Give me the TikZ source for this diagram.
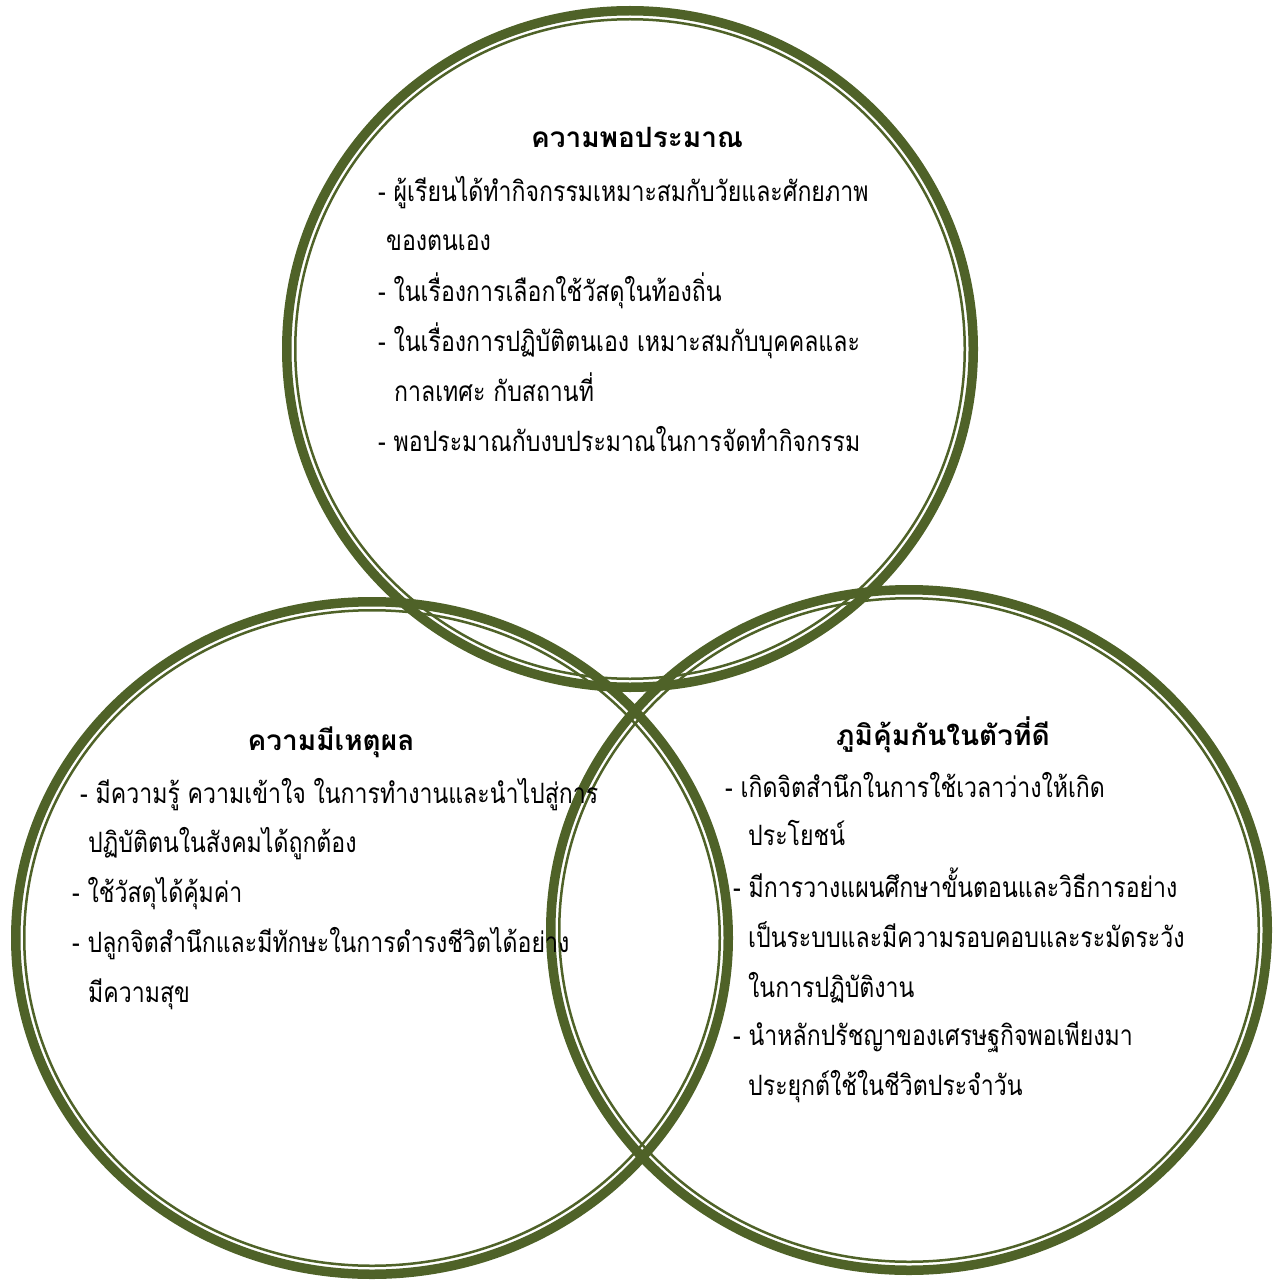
\documentclass[tikz,border=0pt]{standalone}
\usepackage{fontspec}
\newfontfamily\thaifont[Script=Thai]{Loma}
\newfontfamily\thaibody[Script=Thai,FakeStretch=0.825]{Loma}
\definecolor{ringgreen}{HTML}{4F6228}
\tikzset{
  ringthick/.style={draw=ringgreen, line width=9.5pt},
  ringthin/.style={draw=ringgreen, line width=2.5pt},
  ttl/.style={font=\thaifont\bfseries\fontsize{28}{34}\selectfont, inner sep=0pt, anchor=base},
  txt/.style={font=\thaibody\fontsize{28}{34}\selectfont, inner sep=0pt, anchor=base west}
}
\begin{document}
\begin{tikzpicture}[x=1pt,y=-1pt]
\useasboundingbox (0,0) rectangle (1279,1281);
% rings
\draw[ringthick] (630,349) ellipse [x radius=343.25, y radius=338.25];
\draw[ringthin]  (630,349) ellipse [x radius=334.75, y radius=329.75];
\draw[ringthick] (372,938) ellipse [x radius=356.25, y radius=336.25];
\draw[ringthin]  (372,938) ellipse [x radius=347.75, y radius=327.75];
\draw[ringthick] (909,930) ellipse [x radius=358.25, y radius=340.25];
\draw[ringthin]  (909,930) ellipse [x radius=349.75, y radius=331.75];
% top circle
\node[ttl] (tT) at (637,148) {ความพอประมาณ};
\node[txt] (t1) at (378,202) {- ผู้เรียนได้ทำกิจกรรมเหมาะสมกับวัยและศักยภาพ};
\node[txt] (t2) at (386,251) {ของตนเอง};
\node[txt] (t3) at (378,301) {- ในเรื่องการเลือกใช้วัสดุในท้องถิ่น};
\node[txt] (t4) at (378,351) {- ในเรื่องการปฏิบัติตนเอง เหมาะสมกับบุคคลและ};
\node[txt] (t5) at (394,401) {กาลเทศะ กับสถานที่};
\node[txt] (t6) at (378,451) {- พอประมาณกับงบประมาณในการจัดทำกิจกรรม};
% left circle
\node[ttl] (lT) at (331,750) {ความมีเหตุผล};
\node[txt] (l1) at (80,803) {- มีความรู้ ความเข้าใจ ในการทำงานและนำไปสู่การ};
\node[txt] (l2) at (88,852) {ปฏิบัติตนในสังคมได้ถูกต้อง};
\node[txt] (l3) at (72,902) {- ใช้วัสดุได้คุ้มค่า};
\node[txt] (l4) at (72,952) {- ปลูกจิตสำนึกและมีทักษะในการดำรงชีวิตได้อย่าง};
\node[txt] (l5) at (88,1002) {มีความสุข};
% right circle
\node[ttl] (rT) at (943,745) {ภูมิคุ้มกันในตัวที่ดี};
\node[txt] (r1) at (725,797) {- เกิดจิตสำนึกในการใช้เวลาว่างให้เกิด};
\node[txt] (r2) at (748,845) {ประโยชน์};
\node[txt] (r3) at (733,897) {- มีการวางแผนศึกษาขั้นตอนและวิธีการอย่าง};
\node[txt] (r4) at (748,947) {เป็นระบบและมีความรอบคอบและระมัดระวัง};
\node[txt] (r5) at (748,997) {ในการปฏิบัติงาน};
\node[txt] (r6) at (733,1045) {- นำหลักปรัชญาของเศรษฐกิจพอเพียงมา};
\node[txt] (r7) at (748,1095) {ประยุกต์ใช้ในชีวิตประจำวัน};
\end{tikzpicture}
\end{document}
